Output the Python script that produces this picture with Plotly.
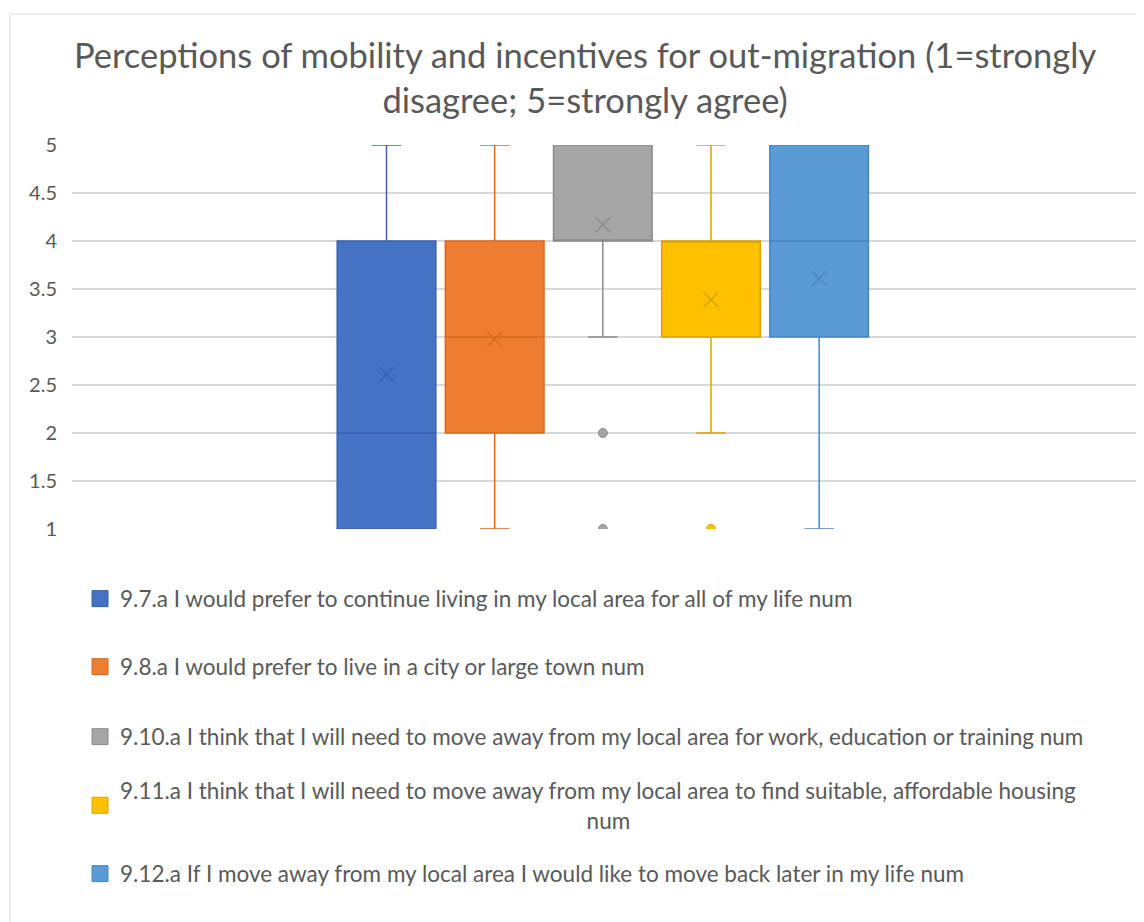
import plotly.graph_objects as go

# survey items (legend labels)
items = [
    "9.7.a I would prefer to continue living in my local area for all of my life num",
    "9.8.a I would prefer to live in a city or large town num",
    "9.10.a I think that I will need to move away from my local area for work, education or training num",
    "9.11.a I think that I will need to move away from my local area to find suitable, affordable housing<br>"
    + "\u00a0" * 81 + "num",
    "9.12.a If I move away from my local area I would like to move back later in my life num",
]

# box statistics
lower = [1, 1, 3, 2, 1]
q1 = [1, 2, 4, 3, 3]
median = [2, 3, 4, 4, 4]
q3 = [4, 4, 5, 4, 5]
upper = [5, 5, 5, 5, 5]
means = [2.61, 2.98, 4.17, 3.39, 3.61]
outliers = [[], [], [2, 1], [1], []]

fills = ["#4472C4", "#ED7D31", "#A5A5A5", "#FFC000", "#5B9BD5"]
lines = ["#3A62AD", "#D56A22", "#8C8C8C", "#D9A400", "#4A85BD"]

font = "Lato, 'Open Sans', sans-serif"
grey = "#595959"

# the page body adds an 8px margin, so the figure is 8px smaller on each side
W, H = 1136, 914
ml, mt, mr, mb = 64, 137, 3, 393
plot_h = H - mt - mb


def paper_y(py):
    # screen pixel row -> paper coordinate
    return (H - mb - (py - 8)) / plot_h


legend_rows = [599, 667, 737, 805.5, 874]

fig = go.Figure()
legends = {}

for i, name in enumerate(items):
    fig.add_trace(go.Box(
        x=[i],
        q1=[q1[i]], median=[median[i]], q3=[q3[i]],
        lowerfence=[lower[i]], upperfence=[upper[i]],
        width=0.912,
        whiskerwidth=0.3,
        fillcolor=fills[i],
        line=dict(color=lines[i], width=1.5),
        showlegend=False,
        hoverinfo="skip",
    ))
    # mean marker
    fig.add_trace(go.Scatter(
        x=[i], y=[means[i]], mode="markers",
        marker=dict(symbol="x-thin", size=15, line=dict(color=lines[i], width=1.5)),
        showlegend=False, hoverinfo="skip",
    ))
    if outliers[i]:
        fig.add_trace(go.Scatter(
            x=[i] * len(outliers[i]), y=outliers[i], mode="markers",
            marker=dict(symbol="circle", size=9, color=fills[i],
                        line=dict(color=lines[i], width=1)),
            showlegend=False, hoverinfo="skip",
        ))
    # legend entry, each in its own legend so rows can be spaced like the original
    key = "legend" if i == 0 else "legend%d" % (i + 1)
    fig.add_trace(go.Scatter(
        x=[None], y=[None], mode="markers", name=name, legend=key,
        marker=dict(symbol="square", size=16, color=fills[i],
                    line=dict(color=lines[i], width=1)),
    ))
    legends[key] = dict(
        x=0.0075, xanchor="left", y=paper_y(legend_rows[i]), yanchor="middle",
        font=dict(family=font, size=22.5, color=grey), bgcolor="rgba(0,0,0,0)",
    )

fig.update_layout(
    width=W, height=H,
    plot_bgcolor="white", paper_bgcolor="white",
    margin=dict(l=ml, r=mr, t=mt, b=mb),
    title=dict(
        text="Perceptions of mobility and incentives for out-migration (1=strongly<br>disagree; 5=strongly agree)",
        x=0.508, xanchor="center", y=0.934, yanchor="top",
        font=dict(family=font, size=34.5, color=grey),
    ),
    xaxis=dict(range=[-2.908, 6.976], visible=False, showgrid=False, zeroline=False),
    yaxis=dict(
        range=[1, 5], dtick=0.5, showgrid=True, gridcolor="#D9D9D9", gridwidth=1.5,
        zeroline=False, showline=False, ticklabelstandoff=14,
        tickfont=dict(family=font, size=20, color=grey),
    ),
    showlegend=True,
    shapes=[dict(type="rect", xref="paper", yref="paper",
                 x0=-0.058, x1=1.2, y0=-1.2, y1=paper_y(14),
                 line=dict(color="#D9D9D9", width=1), layer="below")],
    **legends,
)

fig.write_html("out.html")
